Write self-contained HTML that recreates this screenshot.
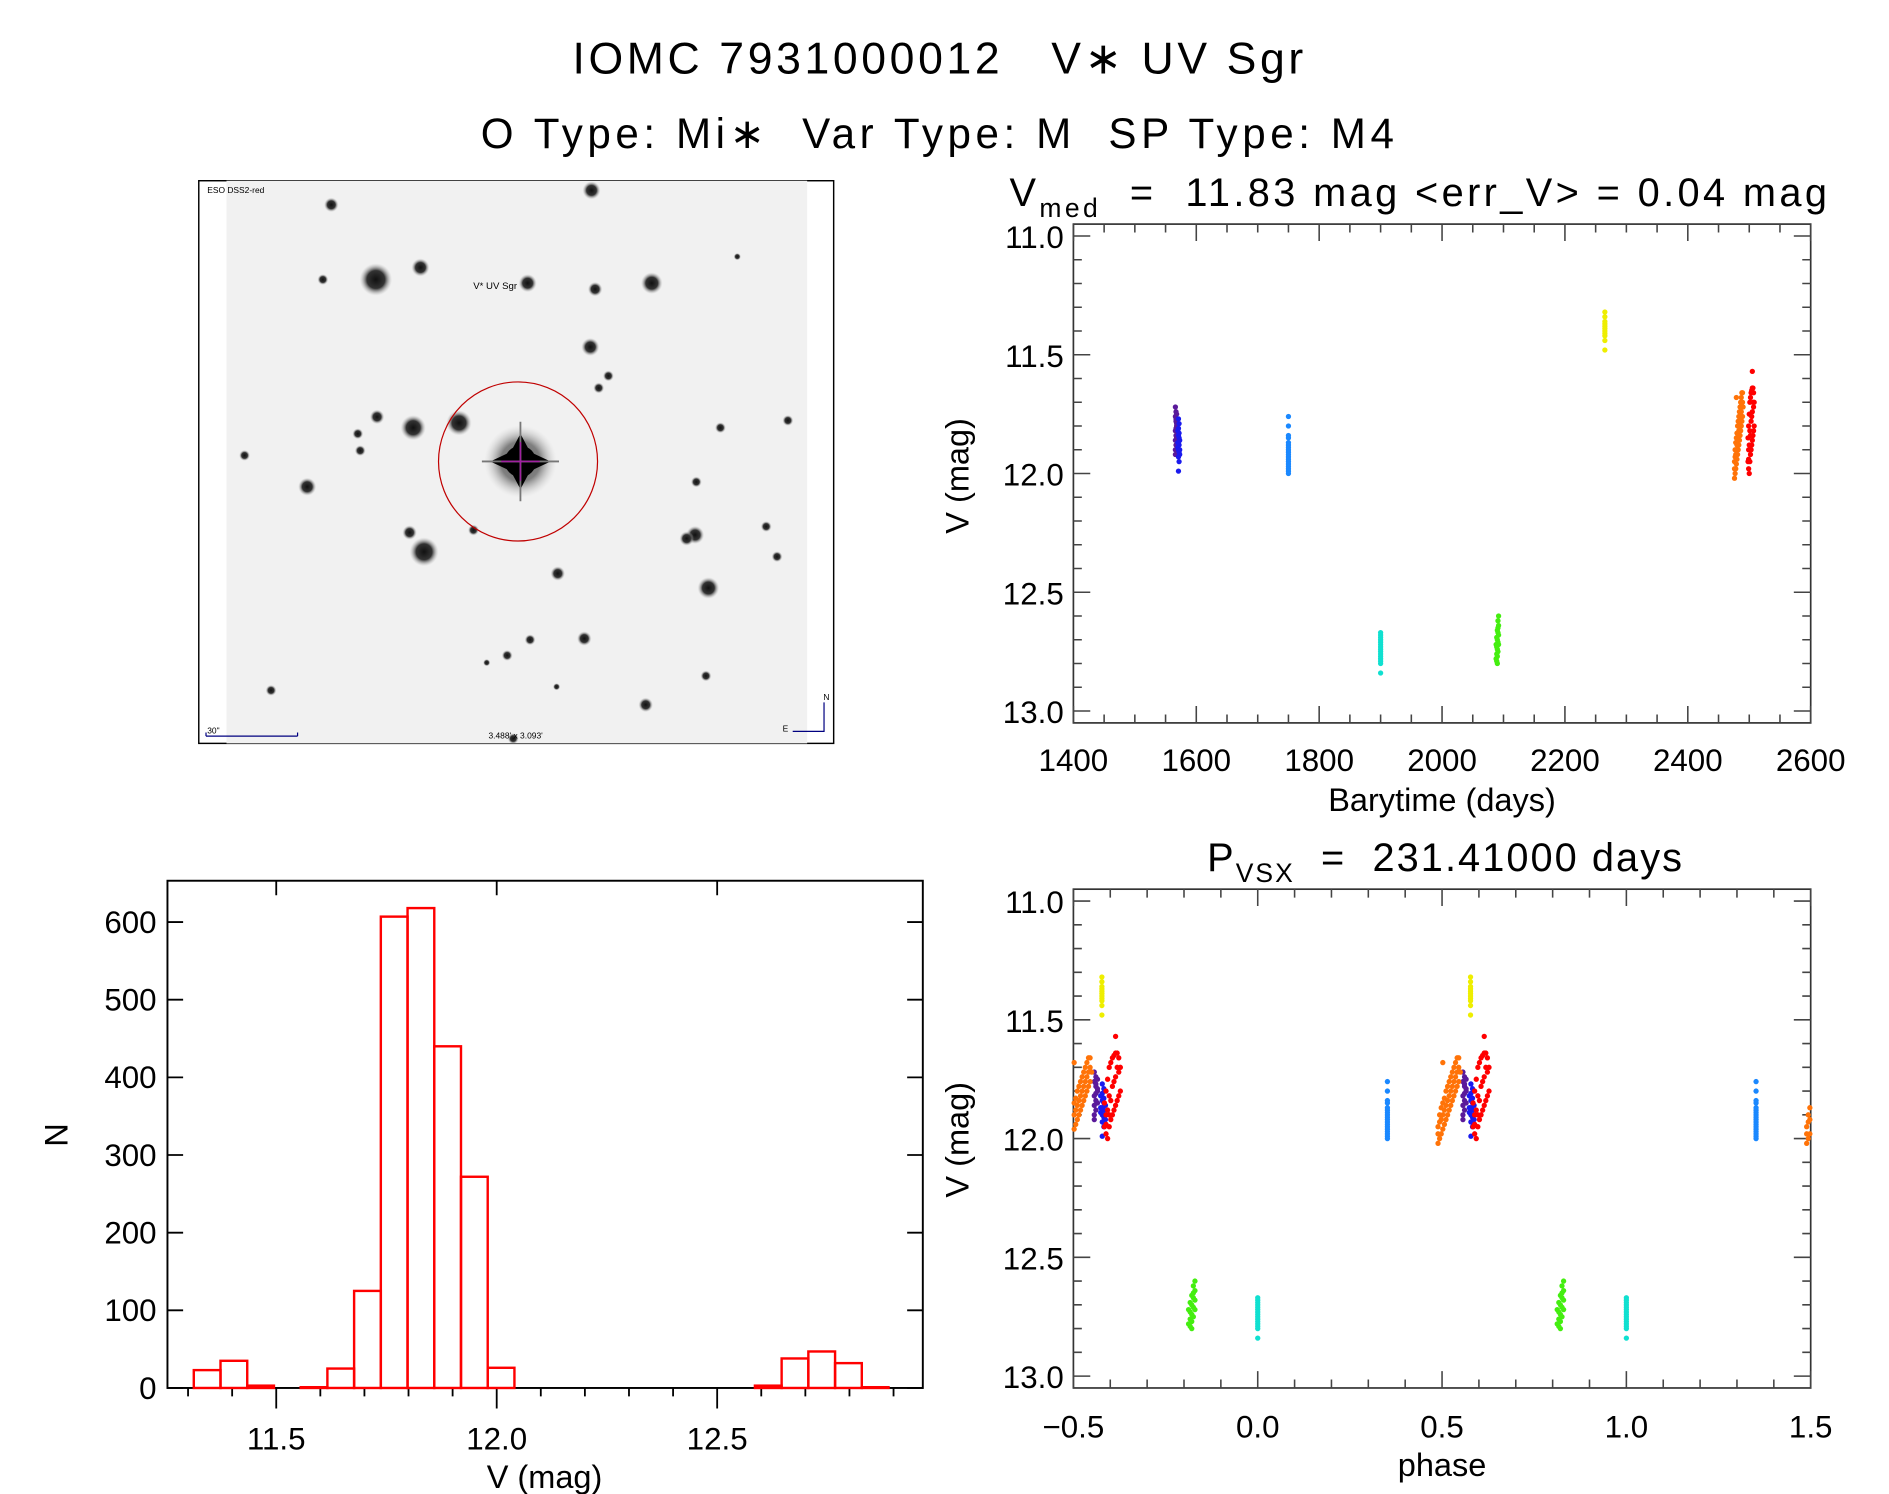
<!DOCTYPE html>
<html><head><meta charset="utf-8"><style>
html,body{margin:0;padding:0;background:#fff}
svg{display:block}
text{font-family:"Liberation Sans",sans-serif;fill:#000}
</style></head><body>
<svg id="fig" width="1889" height="1494" viewBox="0 0 1568 1240" preserveAspectRatio="none" xmlns="http://www.w3.org/2000/svg">
<defs>
<radialGradient id="sg"><stop offset="0" stop-color="#111"/><stop offset="0.55" stop-color="#333"/><stop offset="1" stop-color="#bbb" stop-opacity="0"/></radialGradient>
</defs>
<rect width="1568" height="1240" fill="#fff"/>
<text x="780" y="61" font-size="37" text-anchor="middle" letter-spacing="3">IOMC 7931000012 &#160;&#160;V∗ UV Sgr</text>
<text x="780" y="123" font-size="35" text-anchor="middle" letter-spacing="3.8">O Type: Mi∗ &#160;Var Type: M &#160;SP Type: M4</text>
<g id="img"></g>
<g id="lc"></g>
<g id="ph"></g>
<g id="hist"></g>
</svg>
<script>
// ---- histogram data ----
const histStart = 11.313;
const histWidth = 0.0606;
const histCounts = [23,35,3,0,1,25,125,607,618,440,272,26,0,0,0,0,0,0,0,0,0,3,38,47,32,1];
const histYTicks = [0,100,200,300,400,500,600];
const histXTicks = [11.5,12.0,12.5];
// ---- light curve data (time in days, V mag) ----
const purpleT = [1566,1567,1566,1567,1568,1566,1567,1568,1566,1567,1566,1568,1567,1566,1567,1568];
const purpleM = [11.72,11.74,11.76,11.78,11.80,11.82,11.84,11.79,11.86,11.88,11.90,11.75,11.81,11.92,11.77,11.85];
const blueT = [1571,1572,1570,1571,1572,1573,1571,1572,1570,1571,1572,1573,1571,1572,1571,1572,1570,1573,1571];
const blueM = [11.77,11.79,11.82,11.84,11.85,11.86,11.87,11.88,11.89,11.90,11.91,11.92,11.93,11.95,11.99,11.83,11.87,11.90,11.81];
const azureT = [1750,1750,1750,1750,1750,1750,1750,1750,1750,1750,1750,1750,1750,1750,1750,1750,1750,1750];
const azureM = [11.76,11.80,11.84,11.85,11.88,11.89,11.90,11.91,11.92,11.93,11.94,11.95,11.96,11.97,11.98,11.99,12.00,11.87];
const cyanT = [1900,1900,1900,1900,1900,1900,1900,1900,1900,1900,1900,1900,1900,1900,1900];
const cyanM = [12.67,12.68,12.70,12.71,12.72,12.73,12.74,12.75,12.76,12.77,12.78,12.79,12.80,12.84,12.69];
const greenT = [2092,2091,2092,2090,2091,2092,2089,2090,2091,2092,2089,2090,2091,2089,2090,2088,2089,2090,2088,2091];
const greenM = [12.60,12.62,12.64,12.66,12.67,12.68,12.69,12.70,12.71,12.72,12.73,12.74,12.75,12.76,12.77,12.78,12.79,12.80,12.72,12.65];
const yellowT = [2265,2265,2265,2265,2265,2265,2265,2265,2265,2265,2265];
const yellowM = [11.32,11.34,11.36,11.37,11.38,11.39,11.40,11.41,11.42,11.44,11.48];
const orangeT = [2476,2476,2477,2477,2478,2478,2479,2479,2480,2480,2481,2481,2482,2482,2483,2483,2484,2484,2485,2485,2486,2486,2487,2487,2488,2488,2489,2489,2490,2478,2480,2482,2484,2486,2488,2476,2477,2479,2481,2483,2485,2487,2489,2479];
const orangeM = [12.02,11.95,12.00,11.90,11.98,11.87,11.96,11.85,11.94,11.83,11.92,11.80,11.90,11.78,11.88,11.76,11.86,11.74,11.84,11.72,11.82,11.70,11.80,11.68,11.78,11.66,11.76,11.66,11.72,11.92,11.88,11.84,11.80,11.76,11.72,11.98,11.93,11.90,11.86,11.82,11.78,11.74,11.70,11.68];
const redT = [2498,2498,2499,2499,2500,2500,2501,2501,2502,2502,2503,2503,2504,2504,2505,2505,2506,2506,2507,2507,2508,2508,2499,2501,2503,2505,2507,2500,2502,2504,2506,2505,2499,2501];
const redM = [11.95,11.85,11.98,11.80,12.00,11.75,11.95,11.70,11.92,11.68,11.90,11.66,11.88,11.65,11.86,11.64,11.84,11.64,11.82,11.66,11.80,11.70,11.90,11.82,11.78,11.74,11.72,11.88,11.84,11.76,11.70,11.57,11.94,11.90];
const lcXTicks = [1400,1600,1800,2000,2200,2400,2600];
const magTicks = [11.0,11.5,12.0,12.5,13.0];
const phaseTicks = [-0.5,0.0,0.5,1.0,1.5];
const period = 231.41;
const epoch = 1900;

const NS = "http://www.w3.org/2000/svg";
function mk(parent, tag, attrs){
  const e = document.createElementNS(NS, tag);
  for (const k in attrs) e.setAttribute(k, attrs[k]);
  parent.appendChild(e);
  return e;
}
function txt(parent, x, y, s, size, anchor){
  const t = mk(parent, "text", {x:x, y:y, "font-size":size, "text-anchor":anchor||"middle"});
  t.textContent = s;
  return t;
}

// ---------- sky image ----------
(function(){
  const g = document.getElementById("img");
  mk(g, "rect", {x:165, y:150, width:527, height:467, fill:"none", stroke:"#000", "stroke-width":1.2});
  const bg = mk(g, "rect", {x:188, y:150, width:482, height:467, fill:"#f1f1f1"});
  
  
  const stars = [[312,232,9],[349,222,5],[438,235,5],[541,235,6],[494,240,4],[491,158,5],[275,170,4],[490,288,5],[497,322,3],[505,312,3],[343,355,7],[381,351,7],[313,346,4],[297,360,3],[299,374,3],[255,404,5],[352,458,8],[340,442,4],[393,440,3],[577,444,5],[570,447,4],[588,488,6],[636,437,3],[645,462,3],[463,476,4],[485,530,4],[440,531,3],[421,544,3],[586,561,3],[536,585,4],[225,573,3],[578,400,3],[598,355,3],[654,349,3],[268,232,3],[426,613,3],[612,213,2],[203,378,3],[462,570,2],[404,550,2]];
  stars.forEach(s=>{
    const c = mk(g,"circle",{cx:s[0],cy:s[1],r:s[2]*1.5,fill:"url(#sg)"});
    
    
  });
  mk(g,"circle",{cx:432,cy:383,r:30,fill:"url(#sg)",opacity:0.6});
  mk(g,"path",{d:"M432 360 L440 375 L457 383 L440 391 L432 406 L424 391 L407 383 L424 375 Z",fill:"#000"});
  mk(g,"circle",{cx:432,cy:383,r:13,fill:"#000"});
  mk(g,"path",{d:"M400 383 H464 M432 350 V416",stroke:"#777","stroke-width":1.5});
  mk(g,"path",{d:"M416 383 H448 M432 367 V399",stroke:"#a020a0","stroke-width":1.3});
  const circ = mk(g,"ellipse",{cx:430,cy:383,rx:66,ry:66,fill:"none",stroke:"#c00000","stroke-width":1});
  
  
  const lab = txt(g, 411, 240, "V* UV Sgr", 8); lab.setAttribute("fill","#c00000");
  const l1 = txt(g, 172, 160, "ESO DSS2-red", 7, "start"); l1.setAttribute("fill","#000080");
  const l2 = txt(g, 428, 613, "3.488' x 3.093'", 7); l2.setAttribute("fill","#000080");
  const l3 = txt(g, 172, 609, "30\"", 7, "start"); l3.setAttribute("fill","#000080");
  mk(g,"path",{d:"M171 611 H247 M247 608 V611 M171 608 V611 M684 583 V607 H658",stroke:"#000080","stroke-width":1,fill:"none"});
  const l4 = txt(g, 686, 581, "N", 7); l4.setAttribute("fill","#000080");
  const l5 = txt(g, 652, 607, "E", 7); l5.setAttribute("fill","#000080");
})();

// ---------- scatter panels ----------
const series = [
  {n:"purple", t:purpleT, m:purpleM, c:"#5a1a9a"},
  {n:"blue", t:blueT, m:blueM, c:"#1a1aee"},
  {n:"azure", t:azureT, m:azureM, c:"#1a88ff"},
  {n:"cyan", t:cyanT, m:cyanM, c:"#10e0d0"},
  {n:"green", t:greenT, m:greenM, c:"#44ee10"},
  {n:"yellow", t:yellowT, m:yellowM, c:"#eeee00"},
  {n:"orange", t:orangeT, m:orangeM, c:"#ff7308"},
  {n:"red", t:redT, m:redM, c:"#ff0000"}
];

function frame(g, x0, x1, y0, y1, xmin, xmax, xmajor, xminor, ymin, ymax){
  const sx = v => x0 + (v - xmin)/(xmax - xmin)*(x1 - x0);
  const sy = v => y0 + (v - ymin)/(ymax - ymin)*(y1 - y0);
  const ax = mk(g,"rect",{x:x0,y:y0,width:x1-x0,height:y1-y0,fill:"none",stroke:"#333","stroke-width":1.4});
  
  
  let d = "";
  for (let v = xmin; v <= xmax + 1e-9; v += xminor){
    const X = sx(v);
    const isMaj = Math.abs(v/xmajor - Math.round(v/xmajor)) < 1e-6;
    const L = isMaj ? 14 : 7;
    d += `M${X} ${y1} V${y1-L} M${X} ${y0} V${y0+L} `;
  }
  for (let v = 11.0; v <= 13.0 + 1e-9; v += 0.1){
    const Y = sy(v);
    const isMaj = Math.abs(v*2 - Math.round(v*2)) < 1e-6;
    const L = isMaj ? 14 : 7;
    d += `M${x0} ${Y} H${x0+L} M${x1} ${Y} H${x1-L} `;
  }
  mk(g,"path",{d:d,stroke:"#444","stroke-width":1.3});
  return {sx, sy};
}

function points(g, sx, sy, xs, ms, color, name, xmin, xmax){
  for (let i=0;i<xs.length;i++){
    if (xs[i] < xmin - 0.002 || xs[i] > xmax + 0.002) continue;
    const c = mk(g,"circle",{cx:sx(xs[i]),cy:sy(ms[i]),r:2.2,fill:color});
    
    
  }
}

// light curve
(function(){
  const g = document.getElementById("lc");
  const f = frame(g, 891, 1503, 186, 600, 1400, 2600, 200, 50, 10.95, 13.05);
  series.forEach(s => points(g, f.sx, f.sy, s.t, s.m, s.c, s.n, 1400, 2600));
  lcXTicks.forEach(v => { const t = txt(g, f.sx(v), 640, String(v), 26);   });
  magTicks.forEach(v => { const t = txt(g, 883, f.sy(v)+10, v.toFixed(1), 26, "end");   });
  const xt = txt(g, 1197, 673, "Barytime (days)", 27);
  
  
  const yt = txt(g, 0, 0, "V (mag)", 27);
  yt.setAttribute("transform","translate(804,395) rotate(-90)");
  
  
  const tt = mk(g,"text",{x:838,y:171,"font-size":33,"letter-spacing":"2.8"});
  tt.innerHTML = 'V<tspan font-size="22" dy="9">med</tspan><tspan dy="-9"> &#160;= &#160;11.83 mag &lt;err_V&gt; = 0.04 mag</tspan>';
  
  
})();

// phase plot
(function(){
  const g = document.getElementById("ph");
  const f = frame(g, 891, 1503, 738, 1152, -0.5, 1.5, 0.5, 0.1, 10.95, 13.05);
  series.forEach(s => {
    const ph = s.t.map(t => { let p = ((t - epoch)/period) % 1; if (p < 0) p += 1; return p; });
    [-1,0,1].forEach(k => points(g, f.sx, f.sy, ph.map(p => p + k), s.m, s.c, s.n, -0.5, 1.5));
  });
  phaseTicks.forEach(v => { const t = txt(g, f.sx(v), 1193, (v<0?"\u2212":"")+Math.abs(v).toFixed(1), 26);   });
  magTicks.forEach(v => { const t = txt(g, 883, f.sy(v)+10, v.toFixed(1), 26, "end");   });
  const xt = txt(g, 1197, 1225, "phase", 27);
  
  
  const yt = txt(g, 0, 0, "V (mag)", 27);
  yt.setAttribute("transform","translate(804,946) rotate(-90)");
  
  
  const tt = mk(g,"text",{x:1002,y:723,"font-size":33,"letter-spacing":"1.7"});
  tt.innerHTML = 'P<tspan font-size="22" dy="9">VSX</tspan><tspan dy="-9"> &#160;= &#160;231.41000 days</tspan>';
  
  
})();

// histogram
(function(){
  const g = document.getElementById("hist");
  const x0=139,x1=766,y0=731,y1=1152;
  const sx = v => 229.3 + (v - 11.5)*366;
  const sy = n => y1 - n*0.6445;
  const ax = mk(g,"rect",{x:x0,y:y0,width:x1-x0,height:y1-y0,fill:"none",stroke:"#000","stroke-width":1.6});
  
  
  let d = "";
  for (let v = 11.3; v <= 12.9001; v += 0.1){
    const X = sx(v);
    const isMaj = Math.abs(v*2 - Math.round(v*2)) < 1e-6;
    d += `M${X} ${y1} V${y1 + (isMaj?17:7)} `;
    if (isMaj) d += `M${X} ${y0} V${y0+12} `;
  }
  histYTicks.forEach(n => { const Y = sy(n); d += `M${x0} ${Y} H${x0+13} M${x1} ${Y} H${x1-13} `; });
  mk(g,"path",{d:d,stroke:"#000","stroke-width":1.5});
  histCounts.forEach((n,i) => {
    const a = sx(histStart + i*histWidth), b = sx(histStart + (i+1)*histWidth);
    const r = mk(g,"rect",{x:a,y:sy(n),width:b-a,height:y1-sy(n),fill:"none",stroke:"#ff0000","stroke-width":2});
    
    
  });
  histYTicks.forEach(n => { const t = txt(g, 130, sy(n)+9, String(n), 26, "end");   });
  histXTicks.forEach(v => { const t = txt(g, sx(v), 1203, v.toFixed(1), 26);   });
  const xt = txt(g, 452, 1235, "V (mag)", 27);
  
  
  const yt = txt(g, 0, 0, "N", 27);
  yt.setAttribute("transform","translate(56,942) rotate(-90)");
  
  
})();
</script>
</body></html>
